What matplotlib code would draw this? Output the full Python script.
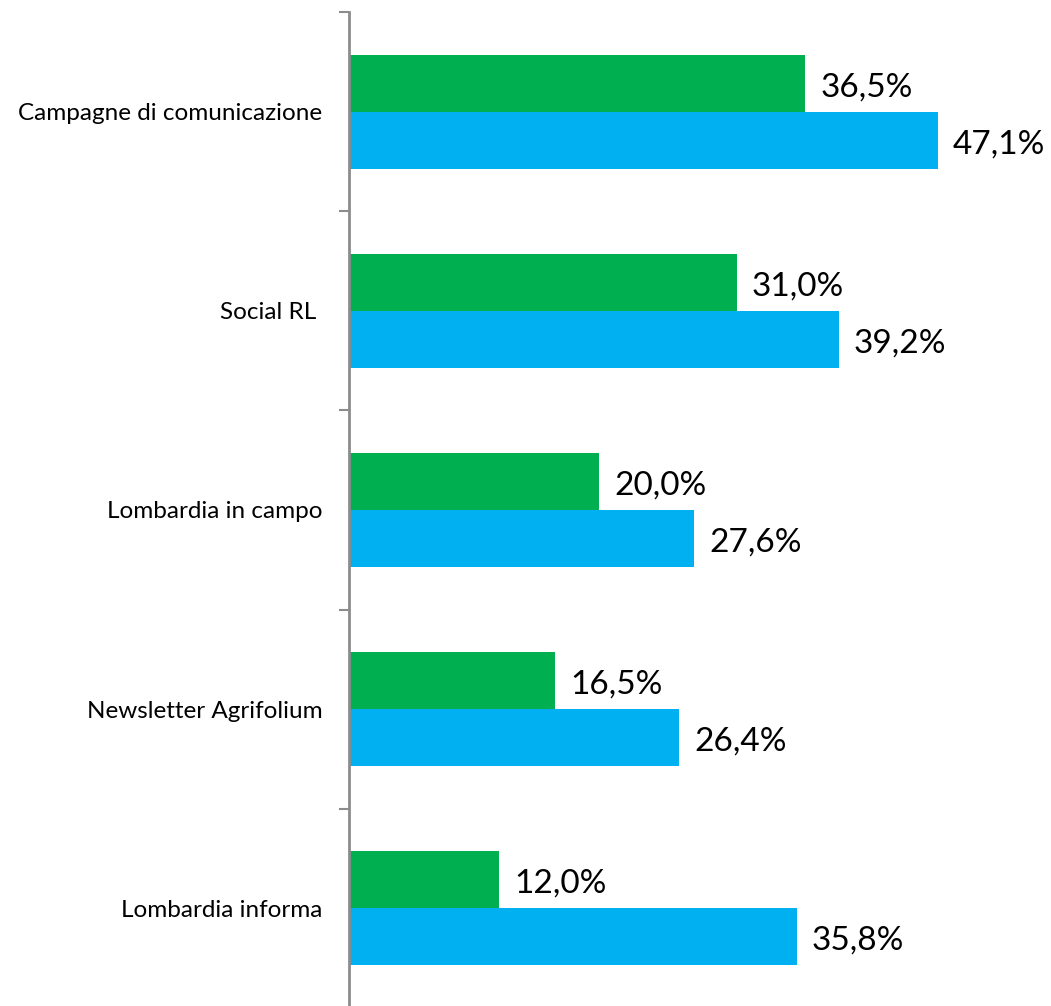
import numpy as np
import matplotlib
matplotlib.use("Agg")
import matplotlib.pyplot as plt

categories = [
    "Campagne di comunicazione",
    "Social RL ",
    "Lombardia in campo",
    "Newsletter Agrifolium",
    "Lombardia informa",
]
green_values = [36.5, 31.0, 20.0, 16.5, 12.0]
blue_values = [47.1, 39.2, 27.6, 26.4, 35.8]

GREEN = "#00B050"
BLUE = "#00B0F0"
AXIS_GRAY = "#8C8C8C"

plt.rcParams["font.family"] = ["Lato", "DejaVu Sans"]

W, H = 1051, 1006
fig = plt.figure(figsize=(W / 100, H / 100), dpi=100)
# axes box in pixels: left 349, top 12, bottom 1008, right 1051
ax = fig.add_axes([349 / W, (H - 1008) / H, (W - 349) / W, (1008 - 12) / H])

y = np.arange(len(categories))
bar_h = 0.286
ax.barh(y - bar_h / 2, green_values, height=bar_h, color=GREEN)
ax.barh(y + bar_h / 2, blue_values, height=bar_h, color=BLUE)

for yi, g, b in zip(y, green_values, blue_values):
    ax.text(g + 1.2, yi - bar_h / 2 + 0.02, f"{g:.1f}%".replace(".", ","),
            va="center", ha="left", fontsize=24)
    ax.text(b + 1.2, yi + bar_h / 2 + 0.02, f"{b:.1f}%".replace(".", ","),
            va="center", ha="left", fontsize=24)

ax.set_xlim(0, (W - 349) / 12.5)
ax.set_ylim(len(categories) - 0.5, -0.5)

for s in ["top", "right", "bottom"]:
    ax.spines[s].set_visible(False)
ax.spines["left"].set_color(AXIS_GRAY)
ax.spines["left"].set_linewidth(2)
ax.set_xticks([])

ax.set_yticks(np.arange(-0.5, len(categories), 1.0))
ax.set_yticklabels([])
ax.tick_params(axis="y", which="major", length=7, width=1.5, color=AXIS_GRAY)
ax.set_yticks(y, minor=True)
ax.set_yticklabels(categories, minor=True, fontsize=17.5)
ax.tick_params(axis="y", which="minor", length=0, pad=19)

fig.savefig("out.png", dpi=100)
